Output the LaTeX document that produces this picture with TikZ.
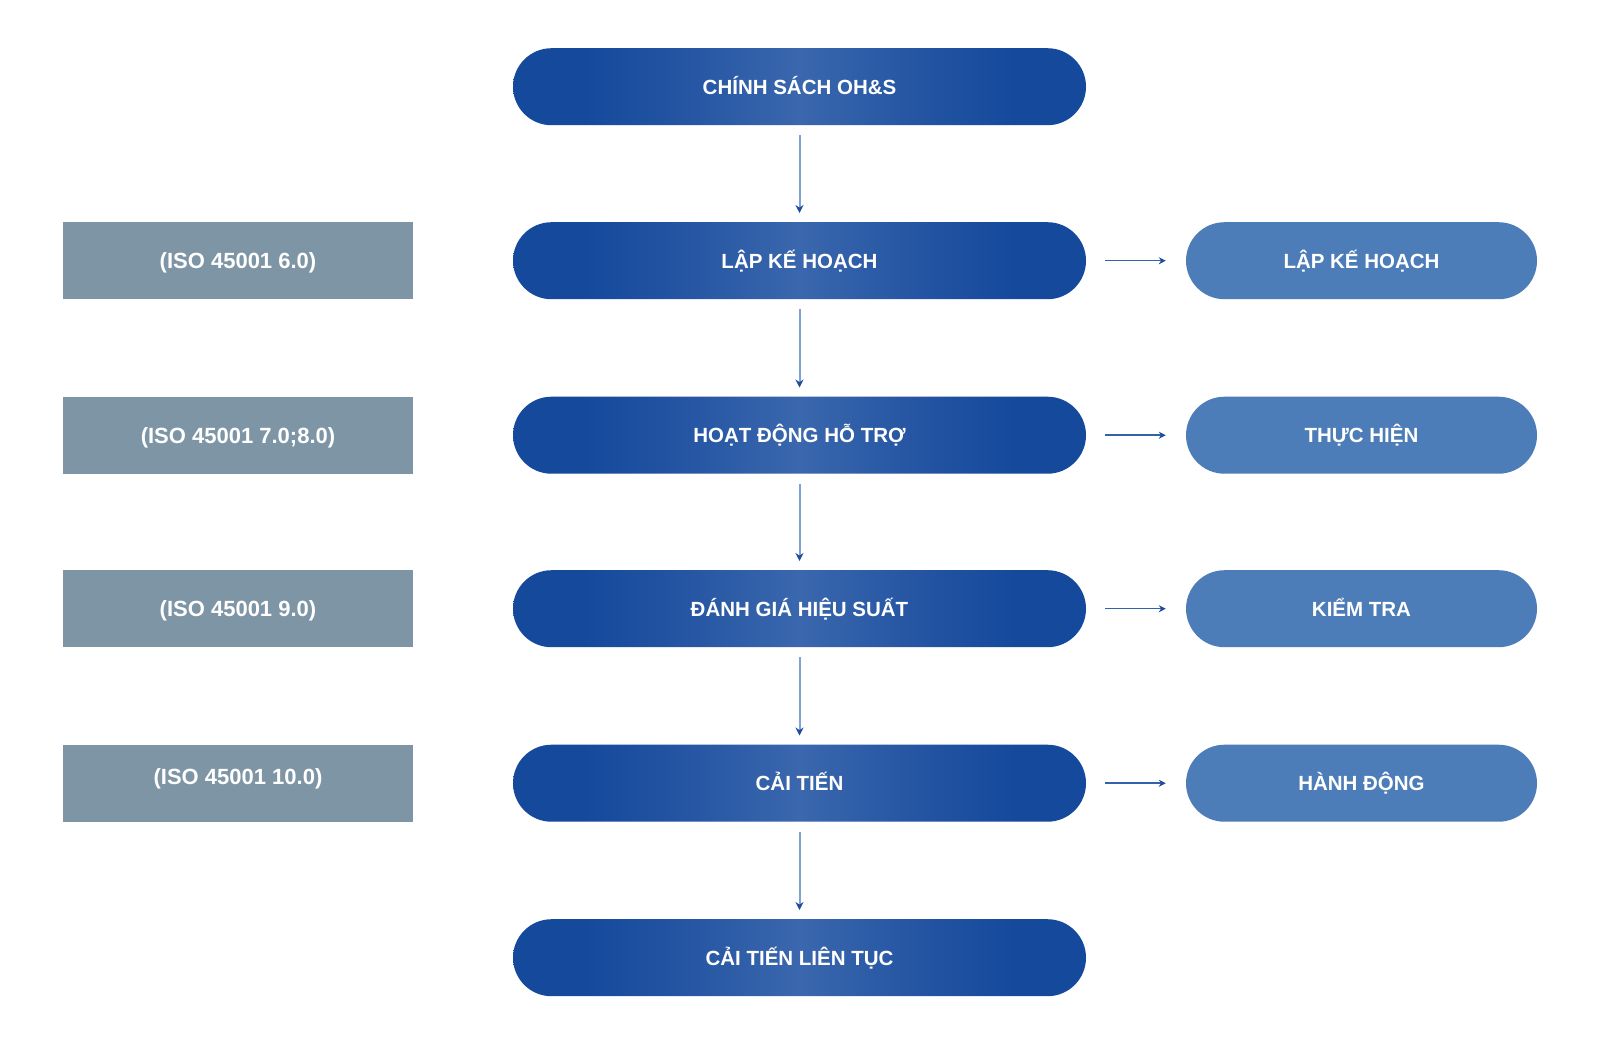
\documentclass[tikz,border=0pt]{standalone}
\usepackage{fontspec}
\setmainfont{Liberation Sans}
\usetikzlibrary{arrows.meta}
\definecolor{pilldark}{HTML}{14499C}
\definecolor{pillmid}{HTML}{3A67AD}
\definecolor{pillq}{HTML}{2555A3}
\definecolor{isogray}{HTML}{7D95A5}
\definecolor{pdcablue}{HTML}{4D7DB8}
\definecolor{arrowlight}{HTML}{7FA2D9}
\definecolor{arrowdark}{HTML}{1F4C9E}
\definecolor{harrowcol}{HTML}{3560AA}
\pgfdeclarehorizontalshading{pillshade}{100bp}{color(0bp)=(pilldark); color(25bp)=(pilldark); color(31bp)=(pilldark); color(40bp)=(pillq); color(50bp)=(pillmid); color(60bp)=(pillq); color(69bp)=(pilldark); color(75bp)=(pilldark); color(100bp)=(pilldark)}
\begin{document}
\begin{tikzpicture}[x=1pt,y=-1pt,
  txt/.style={text=white,font=\fontsize{20.5}{24}\selectfont\bfseries,text height=14.7pt,text depth=0pt},
  isotxt/.style={text=white,font=\fontsize{22}{26}\selectfont\bfseries,text height=15.8pt,text depth=0pt},
  mainpill/.style={txt,draw=none,minimum width=573pt,minimum height=77pt,
    rounded corners=38.5pt,shading=pillshade,inner sep=0pt},
  isobox/.style={isotxt,draw=none,fill=isogray,minimum width=350pt,minimum height=77pt,inner sep=0pt},
  sidepill/.style={txt,draw=none,fill=pdcablue,minimum width=351pt,minimum height=77pt,rounded corners=38.5pt,inner sep=0pt},
  varrow/.style={draw=arrowlight,line width=2pt,-{Stealth[length=8pt,width=8pt,color=arrowdark]},shorten <=10pt,shorten >=9pt},
  harrow/.style={draw=harrowcol,line width=1.5pt,-{Stealth[length=7pt,width=7pt,color=arrowdark]},shorten <=19pt,shorten >=20pt}
]
\useasboundingbox (0,0) rectangle (1600,1045);
\fill[white] (0,0) rectangle (1600,1045);

\node[mainpill] (c1) at (799.5,86.7) {CHÍNH SÁCH OH\&S};
\node[mainpill] (c2) at (799.5,260.7) {LẬP KẾ HOẠCH};
\node[mainpill] (c3) at (799.5,435.2) {HOẠT ĐỘNG HỖ TRỢ};
\node[mainpill] (c4) at (799.5,608.7) {ĐÁNH GIÁ HIỆU SUẤT};
\node[mainpill] (c5) at (799.5,783.2) {CẢI TIẾN};
\node[mainpill] (c6) at (799.5,957.7) {CẢI TIẾN LIÊN TỤC};

\node[isobox] (l2) at (238,260.7) {(ISO 45001 6.0)};
\node[isobox] (l3) at (238,435.2) {(ISO 45001 7.0;8.0)};
\node[isobox] (l4) at (238,608.7) {(ISO 45001 9.0)};
\node[isobox] (l5) at (238,783.2) {};
\node[isotxt] (l5t) at (238,777) {(ISO 45001 10.0)};

\node[sidepill] (r2) at (1361.5,260.7) {LẬP KẾ HOẠCH};
\node[sidepill] (r3) at (1361.5,435.2) {THỰC HIỆN};
\node[sidepill] (r4) at (1361.5,608.7) {KIỂM TRA};
\node[sidepill] (r5) at (1361.5,783.2) {HÀNH ĐỘNG};

\draw[varrow] (c1.south) -- (c2.north);
\draw[varrow] (c2.south) -- (c3.north);
\draw[varrow] (c3.south) -- (c4.north);
\draw[varrow] (c4.south) -- (c5.north);
\draw[varrow] (c5.south) -- (c6.north);

\draw[harrow] (c2.east) -- (r2.west);
\draw[harrow] (c3.east) -- (r3.west);
\draw[harrow] (c4.east) -- (r4.west);
\draw[harrow] (c5.east) -- (r5.west);
\end{tikzpicture}
\end{document}
